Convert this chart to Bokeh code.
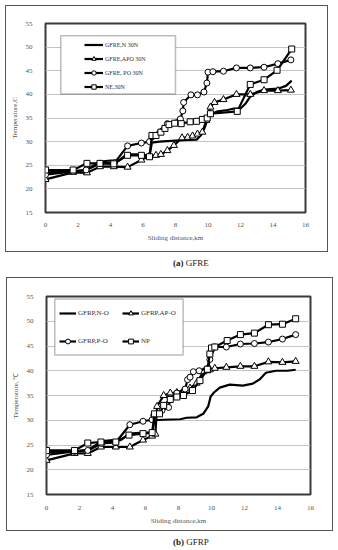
from bokeh.plotting import figure
from bokeh.models import Range1d, SingleIntervalTicker, Legend, LegendItem, BoxAnnotation, Div
from bokeh.layouts import column
from bokeh.embed import file_html
from bokeh.resources import INLINE

SERIF = "Liberation Serif"

# ---------------- Panel (a) GFRE ----------------
a_n_dist = [0, 1.7, 2.5, 3.0, 3.4, 4.0, 4.5, 5.0, 5.9, 6.4, 6.55, 7.0, 7.5, 8.5, 9.3, 9.6, 9.8, 10.0,
            10.3, 10.6, 11.2, 11.6, 12.0, 12.3, 12.6, 13.0, 13.45, 14.3, 14.8, 15.15]
a_n_temp = [23.5, 23.7, 24.0, 25.0, 25.8, 26.0, 26.0, 27.3, 27.3, 27.0, 29.8, 30.0, 30.1, 30.3, 30.4, 31.5, 33.0, 35.0,
            36.0, 36.4, 36.7, 37.0, 37.0, 38.0, 39.5, 40.5, 41.0, 41.2, 41.8, 42.9]

a_apo_dist = [0, 1.7, 2.55, 3.35, 4.2, 5.05, 5.9, 6.4, 6.8, 7.1, 7.5, 7.9, 8.4, 8.75, 9.05, 9.35, 9.65, 9.9,
              10.15, 10.4, 10.95, 11.75, 12.6, 13.45, 14.3, 15.1]
a_apo_temp = [22.0, 23.5, 23.4, 24.7, 24.7, 24.6, 26.1, 27.0, 27.1, 27.3, 28.1, 29.2, 30.8, 30.9, 31.2, 31.6, 32.0, 34.5,
              37.3, 38.3, 38.9, 40.0, 40.0, 40.8, 40.8, 40.9]

a_po_dist = [0, 1.7, 2.5, 3.4, 4.25, 5.05, 5.9, 6.4, 6.55, 7.5, 8.3, 8.45, 8.5, 8.95, 9.35, 9.75, 9.93, 10.0,
             10.3, 10.95, 11.75, 12.6, 13.45, 14.3, 15.1]
a_po_temp = [23.0, 23.7, 24.0, 25.4, 25.5, 29.1, 29.7, 30.0, 31.0, 33.8, 34.8, 36.5, 38.3, 39.9, 39.9, 40.5, 42.4, 44.7,
             44.8, 44.9, 45.6, 45.6, 45.75, 46.5, 47.3]

a_ne_dist = [0, 1.7, 2.55, 3.35, 4.2, 5.05, 5.9, 6.4, 6.55, 6.8, 7.1, 7.35, 7.6, 7.95, 8.35, 8.9, 9.3, 9.65,
             9.95, 10.15, 11.8, 12.6, 13.45, 14.25, 15.15]
a_ne_temp = [24.0, 24.0, 25.4, 25.4, 25.3, 27.1, 27.1, 26.8, 31.3, 31.3, 32.0, 32.8, 33.6, 33.9, 33.8, 34.2, 34.3, 34.7,
             35.0, 35.9, 36.4, 42.1, 43.1, 45.1, 49.6]

a_labels = ["GFRE,N 30N", "GFRE,APO 30N", "GFRE, PO 30N", "NE,30N"]

# ---------------- Panel (b) GFRP ----------------
b_n_dist = [0, 1.7, 2.5, 3.0, 3.4, 4.0, 4.5, 5.0, 5.9, 6.4, 6.55, 7.1, 8.1, 8.5, 9.1, 9.5, 9.8, 9.95,
            10.15, 10.5, 11.1, 11.9, 12.5, 12.9, 13.3, 13.9, 14.6, 15.1]
b_n_temp = [23.5, 23.7, 24.0, 25.0, 25.8, 26.0, 26.0, 27.3, 27.5, 27.5, 30.0, 30.1, 30.2, 30.5, 30.6, 31.3, 32.8, 34.8,
            35.6, 36.6, 37.2, 37.0, 37.4, 38.2, 39.6, 40.0, 40.0, 40.2]

b_apo_dist = [0, 1.7, 2.5, 3.3, 4.2, 5.05, 5.85, 6.4, 6.6, 6.7, 7.1, 7.5, 7.9, 8.3, 8.7, 9.1, 9.5, 9.75,
              9.9, 10.2, 10.9, 11.75, 12.6, 13.45, 14.3, 15.1]
b_apo_temp = [21.9, 23.3, 23.3, 24.6, 24.6, 24.6, 26.0, 26.8, 27.2, 32.8, 35.0, 35.5, 35.6, 36.0, 36.5, 37.5, 39.8, 40.0,
              40.2, 40.5, 40.7, 40.9, 40.9, 41.8, 41.7, 41.9]

b_po_dist = [0, 1.7, 2.5, 3.35, 4.2, 5.05, 5.85, 6.4, 6.5, 7.0, 7.4, 7.5, 7.9, 8.4, 8.55, 8.7, 8.9, 9.25,
             9.8, 9.9, 10.2, 10.9, 11.75, 12.6, 13.45, 14.3, 15.1]
b_po_temp = [23.0, 23.7, 23.9, 25.3, 25.5, 29.1, 29.8, 30.1, 31.0, 32.0, 32.6, 34.5, 35.5, 36.3, 38.2, 38.7, 39.8, 40.0,
             40.5, 42.3, 44.8, 44.8, 45.4, 45.5, 45.8, 46.4, 47.3]

b_np_dist = [0, 1.7, 2.5, 3.3, 4.2, 5.0, 5.85, 6.4, 6.55, 6.85, 7.1, 7.5, 7.9, 8.3, 8.85, 9.3, 9.75,
             9.9, 10.0, 10.2, 10.95, 11.75, 12.6, 13.45, 14.3, 15.1]
b_np_temp = [23.9, 23.9, 25.4, 25.6, 25.6, 27.0, 27.3, 27.5, 31.3, 31.3, 33.0, 34.2, 34.7, 35.0, 36.0, 38.0, 40.3,
             43.4, 44.6, 44.8, 46.1, 47.3, 47.6, 49.3, 49.4, 50.5]

b_labels = ["GFRP,N-O", "GFRP,AP-O", "GFRP,P-O", "NP"]

x_ticks_interval = 2
y_ticks_interval = 5


def base_fig(w, h, ml, mr, mt, mb, ylabel, xstand, ystand):
    p = figure(width=w, height=h, x_range=Range1d(0, 16), y_range=Range1d(15, 55),
               output_backend="svg", toolbar_location=None,
               min_border_left=ml, min_border_right=mr, min_border_top=mt, min_border_bottom=mb,
               styles={"outline": "1.5px solid #555555"})
    p.xaxis.ticker = SingleIntervalTicker(interval=x_ticks_interval)
    p.yaxis.ticker = SingleIntervalTicker(interval=y_ticks_interval)
    p.xgrid.grid_line_color = None
    p.ygrid.grid_line_color = "#c4c4c4"
    p.ygrid.grid_line_width = 1
    p.outline_line_color = "#3a3a3a"
    p.outline_line_width = 2
    for ax in (p.xaxis, p.yaxis):
        ax.axis_line_color = None
        ax.major_tick_line_color = None
        ax.minor_tick_line_color = None
        ax.major_label_text_font = SERIF
        ax.major_label_text_font_size = "7px"
        ax.major_label_text_color = "#555555"
        ax.axis_label_text_font = SERIF
        ax.axis_label_text_font_size = "7px"
        ax.axis_label_text_font_style = "normal"
        ax.axis_label_text_color = "#555555"
    p.xaxis.axis_label = "Sliding distance,km"
    p.yaxis.axis_label = ylabel
    p.xaxis.major_label_standoff = xstand
    p.yaxis.major_label_standoff = ystand
    p.xaxis.axis_label_standoff = 4
    p.yaxis.axis_label_standoff = 4
    p.background_fill_color = "white"
    p.border_fill_color = "white"
    return p


def add_series(p, xs, ys, marker):
    ln = p.line(xs, ys, line_color="black", line_width=2.2)
    rs = [ln]
    if marker is not None:
        sz = 7 if marker == "triangle" else 6
        sc = p.scatter(xs, ys, marker=marker, size=sz, fill_color="white",
                       line_color="black", line_width=1)
        rs.append(sc)
    return rs


# ---- Figure (a)
pa = base_fig(321, 245, 38, 22, 17, 39, "Temperature,C", 4, 7)
ra = [add_series(pa, a_n_dist, a_n_temp, None),
      add_series(pa, a_apo_dist, a_apo_temp, "triangle"),
      add_series(pa, a_po_dist, a_po_temp, "circle"),
      add_series(pa, a_ne_dist, a_ne_temp, "square")]

pa.add_layout(BoxAnnotation(left=0.94, right=8.0, top=52.4, bottom=40.1,
                            fill_color="white", fill_alpha=1,
                            line_color="#222222", line_width=1.5))
leg_a = Legend(items=[LegendItem(label=lab, renderers=r) for lab, r in zip(a_labels, ra)],
               location=(39, 120), orientation="vertical", padding=0, margin=0,
               border_line_color=None, background_fill_alpha=0,
               glyph_width=19, glyph_height=11, label_height=11, spacing=3, label_standoff=2,
               label_text_font=SERIF, label_text_font_size="6px", label_text_color="#333333")
pa.add_layout(leg_a)

# ---- Figure (b)
pb = base_fig(325, 252, 39, 22, 18, 36, "Temperature, \u2103", 5, 7)
pb.margin = (0, 0, 0, 1)
rb = [add_series(pb, b_n_dist, b_n_temp, None),
      add_series(pb, b_apo_dist, b_apo_temp, "triangle"),
      add_series(pb, b_po_dist, b_po_temp, "circle"),
      add_series(pb, b_np_dist, b_np_temp, "square")]

pb.add_layout(BoxAnnotation(left=0.5, right=8.28, top=54.5, bottom=43.2,
                            fill_color="white", fill_alpha=1,
                            line_color="#222222", line_width=1.5))
common = dict(orientation="vertical", padding=0, margin=0, border_line_color=None,
              background_fill_alpha=0, glyph_width=17, glyph_height=12, label_height=12,
              spacing=16, label_standoff=2, label_text_font=SERIF,
              label_text_font_size="7px", label_text_color="#333333")
leg_b1 = Legend(items=[LegendItem(label=b_labels[0], renderers=rb[0]),
                       LegendItem(label=b_labels[2], renderers=rb[2])],
                location=(13, 147), **common)
leg_b2 = Legend(items=[LegendItem(label=b_labels[1], renderers=rb[1]),
                       LegendItem(label=b_labels[3], renderers=rb[3])],
                location=(76, 147), **common)
pb.add_layout(leg_b1)
pb.add_layout(leg_b2)

cap_style = "font-family:'Liberation Serif';font-size:9px;line-height:10px;color:#222;margin-top:7px;margin-left:167px;white-space:nowrap;"
cap_a = Div(text=f"<div style=\"{cap_style}\"><b>(a)</b> GFRE</div>", width=321, height=27, margin=0)
cap_b = Div(text=f"<div style=\"{cap_style}\"><b>(b)</b> GFRP</div>", width=321, height=18, margin=0)

layout = column(pa, cap_a, pb, cap_b, spacing=0, margin=(6, 0, 0, 6))

open("out.html", "w").write(file_html(layout, INLINE))
